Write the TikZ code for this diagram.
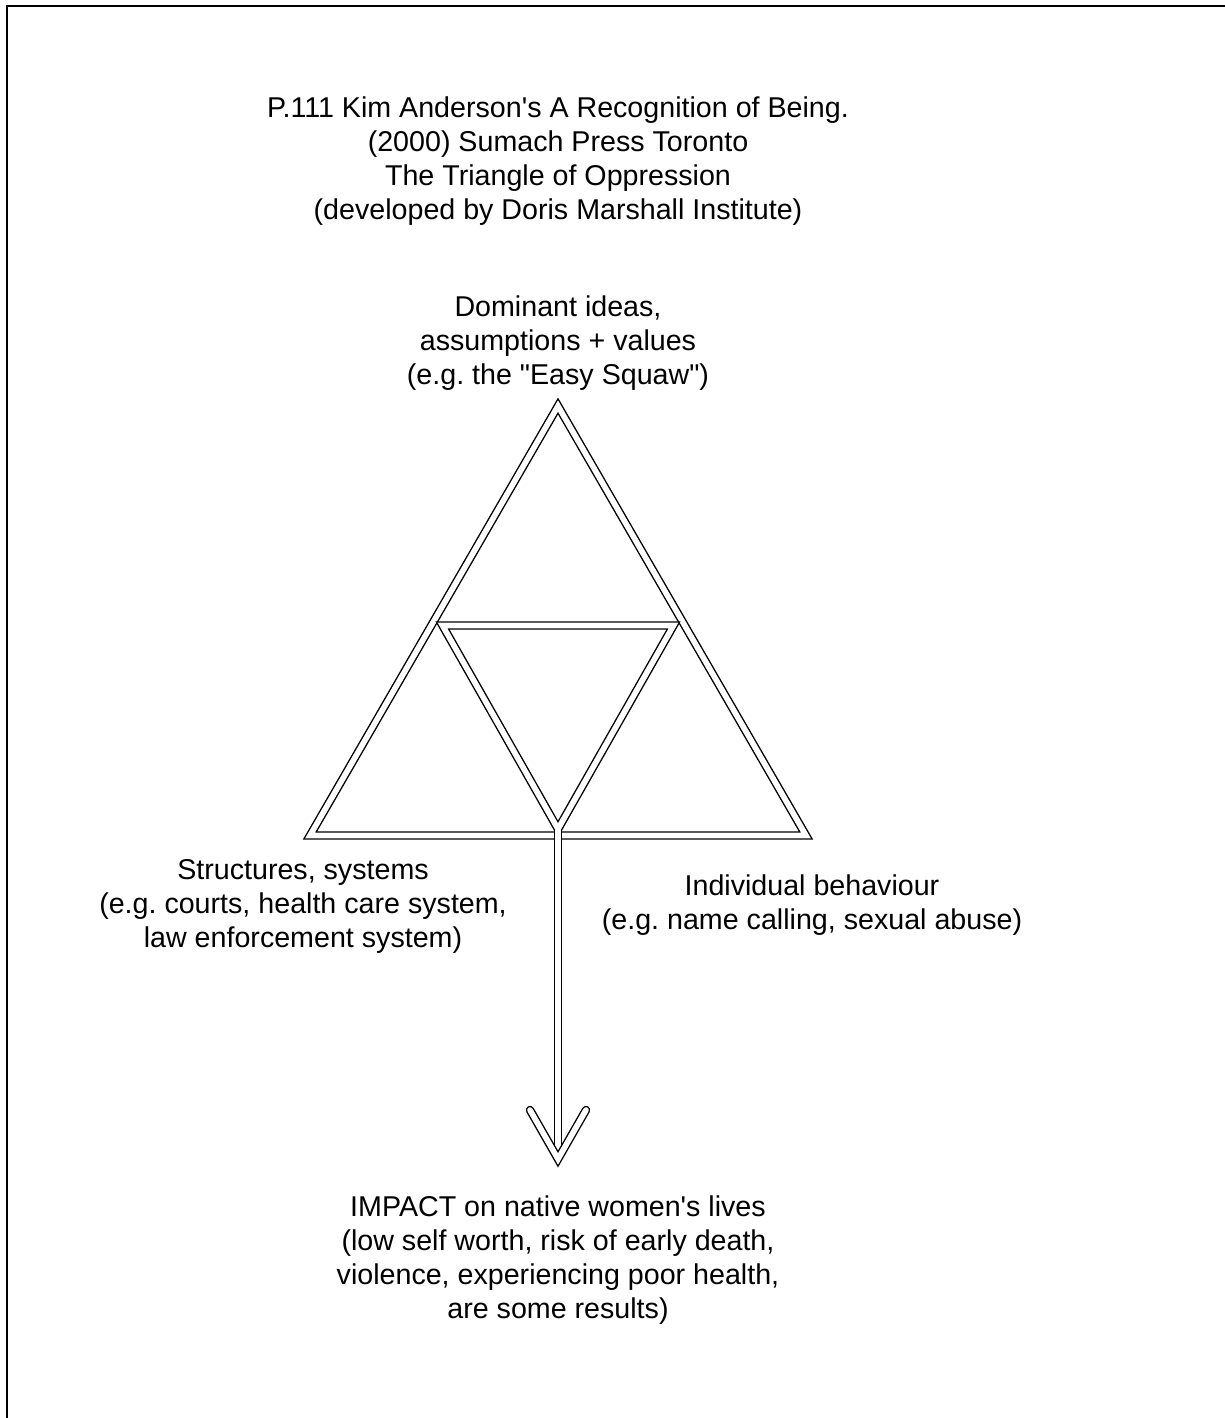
\documentclass[tikz,border=0pt]{standalone}
\usepackage{fontspec}
\setmainfont{Liberation Sans}
\frenchspacing

\begin{document}
\begin{tikzpicture}[x=0.02cm, y=-0.02cm, line cap=butt,
    txt/.style={align=center, inner sep=0pt, font=\fontsize{16.3}{19.35}\selectfont},
    band/.style={double, double distance=3.2pt, line width=0.8pt, line join=miter}]
  \useasboundingbox (0,0) rectangle (1225,1418);
  % frame
  \draw[line width=1.4pt] (7,1418) -- (7,6) -- (1225,6);
  % corners
  \coordinate (top) at (558,406);
  \coordinate (bl) at (310,835.5);
  \coordinate (br) at (806,835.5);
  \coordinate (ml) at (442.5,625.5);
  \coordinate (mr) at (673.5,625.5);
  \coordinate (mb) at (558,829);
  \coordinate (tip) at (558,1159);
  % texts
  \node[txt] (title) at (558,161) {P.111 Kim Anderson\textquotesingle s A Recognition of Being.\\
    (2000) Sumach Press Toronto\\The Triangle of Oppression\\(developed by Doris Marshall Institute)};
  \node[txt] (ideas) at (558,343) {Dominant ideas,\\assumptions + values\\(e.g. the \textquotedbl Easy Squaw\textquotedbl)};
  \node[txt] (struct) at (303,906) {Structures, systems\\(e.g. courts, health care system,\\law enforcement system)};
  \node[txt] (indiv) at (812,905) {Individual behaviour\\(e.g. name calling, sexual abuse)};
  \node[txt] (impact) at (558,1260) {IMPACT on native women\textquotesingle s lives\\
    (low self worth, risk of early death,\\violence, experiencing poor health,\\are some results)};
  % triangles
  \draw[band] (top) -- (bl) -- (br) -- cycle;
  \draw[band] (ml) -- (mr) -- (mb) -- cycle;
  % arrow
  \draw[band] (mb) -- (tip);
  \draw[band, line cap=round] (tip) ++(-28,-49) -- (tip) -- ++(28,-49);
\end{tikzpicture}
\end{document}
